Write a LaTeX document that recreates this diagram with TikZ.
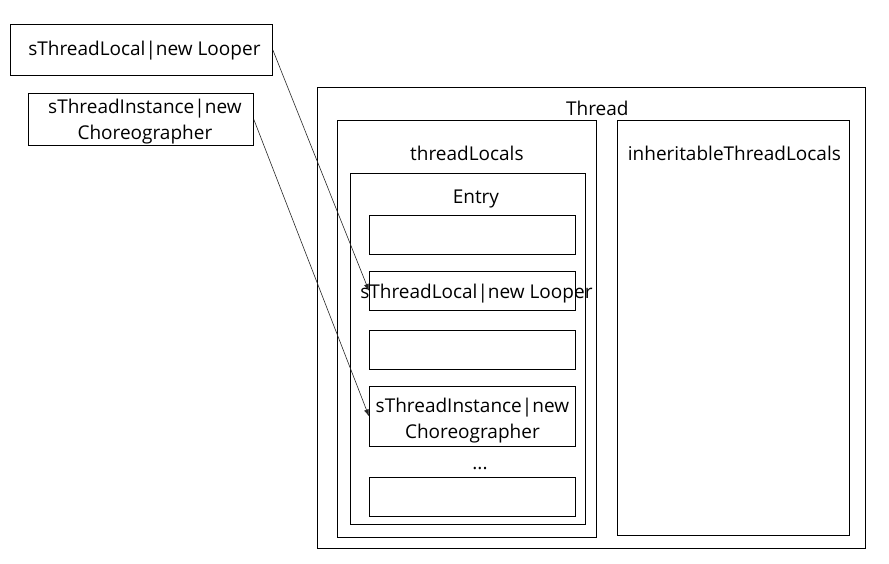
\documentclass[tikz,border=0pt]{standalone}
\usepackage{fontspec}
\setmainfont{Open Sans}
\usetikzlibrary{calc,arrows.meta,positioning}

\begin{document}
\begin{tikzpicture}[x=1pt,y=-1pt]

  % Styles
  \tikzstyle{box}=[draw,line width=0.8pt,anchor=north west,inner sep=0pt]
  \tikzstyle{txt}=[font=\fontsize{19}{26}\selectfont,align=center,anchor=base,inner sep=0pt]
  \tikzstyle{to}=[-{Latex[length=7pt,width=5pt]},line width=0.6pt,black!85]

  % \bx{<id>}{<x1>}{<y1>}{<x2>}{<y2>}
  \DeclareDocumentCommand \bx { m m m m m }{%
    \node[box,minimum width={(#4-#2)*1pt},minimum height={(#5-#3)*1pt}] (#1) at (#2,#3) {};
  }

  \useasboundingbox (0,0) rectangle (889,563);

  % Outer boxes
  \bx{looper}{10}{24}{272}{75}
  \bx{choreo}{28}{93}{253}{145}
  \bx{thread}{317}{87}{865}{548}
  \bx{locals}{337}{120}{596}{537}
  \bx{inherit}{617}{120}{849}{535}
  \bx{entry}{350}{173}{585}{524}

  % Entry slots
  \bx{slot1}{369}{215}{575}{254}
  \bx{slot2}{369}{271}{575}{310}
  \bx{slot3}{369}{330}{575}{369}
  \bx{slot4}{369}{386}{575}{446}
  \bx{slot5}{369}{477}{575}{516}

  % Labels (two-line labels sit on the base of their last line)
  \node[txt] (looperlbl) at ($(looper.center)+(3,6)$) {sThreadLocal|new Looper};
  \node[txt] (choreolbl) at ($(choreo.center)+(4,20)$) {sThreadInstance|new\\Choreographer};
  \node[txt] (threadlbl) at ($(thread.north)+(6,28)$) {Thread};
  \node[txt] (localslbl) at ($(locals.north)+(0,40)$) {threadLocals};
  \node[txt] (inheritlbl) at ($(inherit.north)+(1,40)$) {inheritableThreadLocals};
  \node[txt] (entrylbl) at ($(entry.north)+(8,30)$) {Entry};
  \node[txt] (slot2lbl) at ($(slot2.center)+(4,8)$) {sThreadLocal|new Looper};
  \node[txt] (slot4lbl) at ($(slot4.center)+(0,22)$) {sThreadInstance|new\\Choreographer};
  \node[txt] (dots) at (480,469) {...};

  % Arrows
  \draw[to] (looper.east) -- (slot2.west);
  \draw[to] (choreo.east) -- (slot4.west);

\end{tikzpicture}
\end{document}
